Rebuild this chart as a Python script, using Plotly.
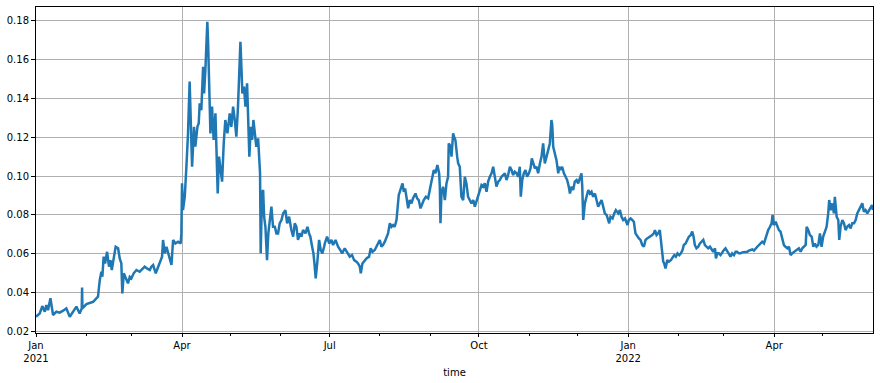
import pandas as pd
import plotly.graph_objects as go

# ---- data: day offsets from 2021-01-01 and price values ----
t1 = [0, 2.3, 3.9, 5.4, 6.4, 7.4, 8.9, 9.7, 10.5, 12.6,
      14.6, 16.7, 18.7, 20.8, 22.8, 24.9, 26.9, 28.2, 28.4, 28.6,
      31.1, 33.1, 35.2, 37.2, 38.2, 39.3, 40.3, 40.9, 41.7, 42.6,
      43.8, 45.0, 45.9, 46.7, 47.9, 49.1, 50.6, 51.6, 52.6, 53.2,
      54.1, 55.3, 56.7, 57.8, 58.8, 60.2, 61.9, 63.9, 65.6, 67.0,
      68.4, 70.1, 71.1, 72.2, 73.8, 75.2, 76.7, 77.7, 78.3, 79.4,
      80.4, 81.6, 82.4, 83.5, 84.5, 85.9, 87.6]
v1 = [0.0274, 0.0291, 0.0329, 0.0300, 0.0334, 0.0308, 0.0369, 0.0326, 0.0283, 0.0300,
      0.0295, 0.0305, 0.0317, 0.0274, 0.0300, 0.0326, 0.0291, 0.0317, 0.0425, 0.0317,
      0.0339, 0.0343, 0.0351, 0.0369, 0.0377, 0.0463, 0.0506, 0.0480, 0.0584, 0.0549,
      0.0609, 0.0532, 0.0566, 0.0515, 0.0584, 0.0635, 0.0627, 0.0575, 0.0549, 0.0394,
      0.0498, 0.0472, 0.0446, 0.0480, 0.0472, 0.0498, 0.0515, 0.0506, 0.0523, 0.0532,
      0.0523, 0.0515, 0.0532, 0.0541, 0.0498, 0.0532, 0.0558, 0.0584, 0.0670, 0.0601,
      0.0635, 0.0601, 0.0575, 0.0541, 0.0670, 0.0652, 0.0661]

t2 = [89.2, 89.6, 90.0, 90.6, 91.7, 92.7, 93.7, 94.7, 95.4, 96.2,
      97.4, 98.2, 99.5, 100.3, 100.9, 101.9, 103.0, 103.6, 104.4, 105.0,
      105.6, 106.1, 106.7, 107.5, 108.5, 109.5, 110.6, 111.4, 112.0, 112.8,
      113.9, 114.7, 115.7, 116.7, 118.0, 119.4, 120.4, 121.5, 122.5, 123.5,
      124.5, 125.2, 126.0, 126.6, 127.2, 128.2, 129.1, 130.1, 130.7, 131.5,
      132.4, 133.2, 134.0, 134.8, 135.8, 136.9, 137.5, 138.1, 138.5, 138.9,
      139.3, 140.0, 140.6, 141.4, 142.4, 143.2, 144.3, 145.1, 146.1, 147.2,
      148.2, 149.2, 150.2, 151.3, 152.3, 153.7, 154.8, 156.0, 157.4, 158.5,
      159.5, 160.5, 161.5, 162.6, 163.6, 164.6, 166.1, 167.3, 168.3, 169.1,
      170.2, 171.0, 171.8, 172.4, 173.5, 174.5, 175.5, 176.5, 177.6]
v2 = [0.0652, 0.0704, 0.0962, 0.0824, 0.0893, 0.1048, 0.1220, 0.1487, 0.1306, 0.1048,
      0.1254, 0.1151, 0.1254, 0.1272, 0.1375, 0.1340, 0.1564, 0.1426, 0.1547, 0.1702,
      0.1796, 0.1684, 0.1478, 0.1220, 0.1358, 0.1186, 0.1323, 0.1117, 0.0910, 0.1100,
      0.1014, 0.0971, 0.1168, 0.1289, 0.1220, 0.1323, 0.1254, 0.1358, 0.1289, 0.1203,
      0.1358, 0.1495, 0.1693, 0.1564, 0.1426, 0.1461, 0.1358, 0.1478, 0.1306, 0.1100,
      0.1254, 0.1186, 0.1289, 0.1220, 0.1151, 0.1194, 0.1117, 0.1014, 0.0601, 0.0842,
      0.0910, 0.0928, 0.0790, 0.0738, 0.0566, 0.0704, 0.0790, 0.0842, 0.0738, 0.0738,
      0.0704, 0.0704, 0.0756, 0.0773, 0.0807, 0.0824, 0.0756, 0.0790, 0.0721, 0.0687,
      0.0756, 0.0738, 0.0670, 0.0704, 0.0687, 0.0721, 0.0704, 0.0738, 0.0704, 0.0687,
      0.0635, 0.0601, 0.0532, 0.0472, 0.0566, 0.0670, 0.0618, 0.0601, 0.0635]

t3 = [178.0, 179.4, 180.7, 182.1, 183.1, 184.6, 186.2, 187.6, 188.7, 190.3,
      191.8, 193.4, 194.8, 196.1, 197.5, 198.5, 199.6, 200.2, 201.2, 202.6,
      203.7, 205.3, 206.3, 207.4, 208.8, 209.8, 211.1, 211.9, 212.9, 213.9,
      215.0, 216.0, 217.0, 218.1, 219.1, 220.1, 221.1, 222.2, 222.8, 223.6,
      224.6, 225.9, 226.7, 227.5, 228.3, 229.4, 230.4, 231.4, 232.4, 233.9,
      234.9, 235.9, 237.0, 238.0, 239.0, 240.3, 241.7, 243.1, 244.2, 245.2,
      246.2, 247.4, 248.5, 248.9, 249.3, 249.9, 250.9, 252.0, 253.0, 254.0,
      254.4, 255.5, 256.1, 257.1, 257.7, 258.5, 259.6, 260.2, 261.2, 262.2,
      263.3, 264.3, 265.3, 266.3]
v3 = [0.0652, 0.0687, 0.0652, 0.0670, 0.0644, 0.0670, 0.0635, 0.0618, 0.0601, 0.0627,
      0.0609, 0.0584, 0.0592, 0.0566, 0.0558, 0.0549, 0.0532, 0.0498, 0.0549, 0.0566,
      0.0575, 0.0584, 0.0627, 0.0609, 0.0618, 0.0635, 0.0661, 0.0670, 0.0635, 0.0644,
      0.0661, 0.0687, 0.0704, 0.0756, 0.0738, 0.0747, 0.0738, 0.0773, 0.0842, 0.0902,
      0.0928, 0.0962, 0.0919, 0.0936, 0.0893, 0.0833, 0.0876, 0.0859, 0.0885, 0.0910,
      0.0885, 0.0876, 0.0833, 0.0859, 0.0876, 0.0893, 0.0885, 0.0945, 0.0988, 0.1031,
      0.1014, 0.1057, 0.1014, 0.0945, 0.0756, 0.0910, 0.0945, 0.0876, 0.0962, 0.0996,
      0.1168, 0.1151, 0.1100, 0.1220, 0.1203, 0.1186, 0.1100, 0.1065, 0.1048, 0.0893,
      0.0876, 0.0996, 0.0962, 0.0893]

t4 = [268.4, 269.5, 270.5, 271.5, 272.5, 273.6, 274.6, 275.6, 276.6, 277.7,
      278.7, 279.7, 280.8, 281.8, 282.8, 283.8, 284.9, 285.9, 286.9, 287.9,
      289.0, 290.0, 291.0, 292.1, 293.1, 294.1, 295.1, 296.2, 297.2, 298.2,
      298.8, 299.7, 300.7, 301.7, 302.7, 303.8, 304.8, 305.6, 306.4, 307.5,
      308.5, 309.5, 310.6, 311.6, 312.6, 313.6, 314.7, 315.7, 316.7, 317.7,
      318.2, 318.8, 319.8, 320.8, 321.9, 322.5, 323.3, 324.3, 325.4, 326.4,
      327.4, 328.4, 329.1, 330.1, 331.1, 332.1, 333.2, 334.2, 335.2, 336.2,
      336.7, 337.3, 338.3, 339.3, 340.4, 341.4, 342.4, 343.4, 344.5, 345.5,
      346.5, 347.5, 348.6, 349.6, 350.6, 351.7, 352.7, 353.3, 354.1, 355.4,
      356.4, 357.4, 358.9]
v4 = [0.0859, 0.0876, 0.0842, 0.0867, 0.0893, 0.0928, 0.0953, 0.0945, 0.0962, 0.0919,
      0.0971, 0.0996, 0.1014, 0.1048, 0.0996, 0.0945, 0.0971, 0.0979, 0.0996, 0.1005,
      0.1014, 0.0979, 0.1005, 0.1048, 0.1031, 0.1005, 0.1022, 0.1014, 0.0996, 0.1048,
      0.0893, 0.0979, 0.1014, 0.1031, 0.0996, 0.1014, 0.1039, 0.1091, 0.1065, 0.1039,
      0.1048, 0.1014, 0.1065, 0.1100, 0.1168, 0.1065, 0.1100, 0.1143, 0.1168, 0.1289,
      0.1263, 0.1151, 0.1117, 0.1082, 0.1014, 0.1048, 0.1031, 0.1048, 0.1014, 0.0996,
      0.0979, 0.0945, 0.0910, 0.0945, 0.0928, 0.0971, 0.0979, 0.0962, 0.0996, 0.1014,
      0.0945, 0.0773, 0.0859, 0.0893, 0.0928, 0.0910, 0.0919, 0.0893, 0.0910, 0.0876,
      0.0842, 0.0859, 0.0876, 0.0842, 0.0807, 0.0799, 0.0773, 0.0756, 0.0790, 0.0781,
      0.0807, 0.0824, 0.0807]

t5 = [359.9, 360.9, 361.9, 363.0, 364.0, 364.6, 365.4, 366.5, 367.5, 368.5,
      369.5, 370.6, 371.6, 372.6, 373.7, 374.7, 375.7, 376.7, 377.8, 378.8,
      379.8, 380.8, 381.5, 382.5, 383.5, 384.5, 385.2, 386.0, 386.6, 387.2,
      388.0, 389.1, 390.1, 391.3, 392.4, 393.4, 394.4, 395.4, 396.5, 397.5,
      398.5, 399.3, 400.4, 401.4, 402.4, 403.5, 404.5, 405.3, 406.1, 407.1,
      408.2, 409.2, 410.2, 411.3, 412.3, 413.3, 414.3, 415.4, 416.4, 417.4,
      418.5, 419.1, 419.9, 420.9, 421.9, 423.0, 424.0, 425.0, 426.1, 427.1,
      428.1, 429.1, 430.2, 431.2, 432.2, 433.2, 434.3, 435.3, 436.3, 437.4,
      438.4, 439.4, 440.4, 441.5, 442.5, 443.5, 444.6, 445.6, 446.6, 447.6,
      448.7]
v5 = [0.0824, 0.0790, 0.0773, 0.0781, 0.0764, 0.0747, 0.0773, 0.0781, 0.0773, 0.0764,
      0.0704, 0.0687, 0.0678, 0.0670, 0.0644, 0.0635, 0.0670, 0.0678, 0.0683, 0.0687,
      0.0695, 0.0704, 0.0721, 0.0695, 0.0704, 0.0721, 0.0670, 0.0601, 0.0558, 0.0549,
      0.0523, 0.0566, 0.0558, 0.0566, 0.0584, 0.0592, 0.0584, 0.0601, 0.0592, 0.0601,
      0.0618, 0.0644, 0.0652, 0.0670, 0.0687, 0.0695, 0.0713, 0.0687, 0.0644, 0.0627,
      0.0635, 0.0652, 0.0661, 0.0670, 0.0644, 0.0635, 0.0627, 0.0635, 0.0618, 0.0609,
      0.0627, 0.0575, 0.0601, 0.0601, 0.0592, 0.0609, 0.0618, 0.0627, 0.0609, 0.0592,
      0.0584, 0.0601, 0.0592, 0.0609, 0.0609, 0.0601, 0.0601, 0.0606, 0.0606, 0.0609,
      0.0609, 0.0615, 0.0618, 0.0621, 0.0615, 0.0627, 0.0635, 0.0644, 0.0652, 0.0661,
      0.0652]

t6 = [449.3, 450.3, 451.3, 452.4, 453.4, 454.0, 454.8, 455.9, 456.9, 457.9,
      458.9, 460.0, 461.0, 462.0, 463.1, 464.1, 465.1, 466.1, 467.2, 468.2,
      469.2, 470.2, 471.3, 472.3, 473.3, 474.4, 475.0, 476.0, 477.0, 478.1,
      479.1, 480.1, 481.1, 482.2, 483.2, 484.2, 485.2, 486.3, 487.3, 488.3,
      488.9, 489.8, 490.8, 491.8, 492.4, 493.5, 494.5, 495.1, 495.9, 497.0,
      498.0, 499.0, 500.0, 501.1, 502.1, 503.1, 504.2, 505.2, 506.2, 507.2,
      508.3, 509.3, 510.3, 511.3, 512.4, 513.4, 514.4, 515.3, 515.9]
v6 = [0.0670, 0.0704, 0.0721, 0.0738, 0.0756, 0.0799, 0.0747, 0.0764, 0.0738, 0.0721,
      0.0713, 0.0670, 0.0644, 0.0635, 0.0627, 0.0635, 0.0592, 0.0601, 0.0609, 0.0618,
      0.0621, 0.0627, 0.0609, 0.0627, 0.0635, 0.0644, 0.0738, 0.0721, 0.0695, 0.0687,
      0.0635, 0.0652, 0.0635, 0.0644, 0.0704, 0.0635, 0.0687, 0.0721, 0.0738, 0.0807,
      0.0876, 0.0824, 0.0859, 0.0807, 0.0893, 0.0790, 0.0773, 0.0670, 0.0738, 0.0773,
      0.0756, 0.0721, 0.0738, 0.0747, 0.0730, 0.0756, 0.0756, 0.0773, 0.0807, 0.0824,
      0.0842, 0.0859, 0.0816, 0.0824, 0.0807, 0.0824, 0.0833, 0.0850, 0.0824]

tick_dates = ["2021-01-01", "2021-04-01", "2021-07-01", "2021-10-01", "2022-01-01", "2022-04-01"]
tick_labels = ["Jan<br>2021", "Apr", "Jul", "Oct", "Jan<br>2022", "Apr"]
y_ticks = [0.02, 0.04, 0.06, 0.08, 0.10, 0.12, 0.14, 0.16, 0.18]

days = t1 + t2 + t3 + t4 + t5 + t6
price = v1 + v2 + v3 + v4 + v5 + v6
assert len(days) == len(price), (len(days), len(price))

start = pd.Timestamp("2021-01-01")
time = start + pd.to_timedelta(days, unit="D")
minor_ticks = pd.date_range("2021-01-01", time[-1], freq="MS")

fig = go.Figure()
fig.add_trace(go.Scatter(x=time, y=price, mode="lines",
                         line=dict(color="#1f77b4", width=2.5), showlegend=False))

font = dict(family="DejaVu Sans", size=10, color="black")
fig.update_layout(
    width=880, height=383,
    margin=dict(l=36, r=7, t=7, b=50),
    paper_bgcolor="white", plot_bgcolor="white",
    font=font,
)
fig.update_xaxes(
    range=[time[0], time[-1]],
    tickmode="array", tickvals=tick_dates, ticktext=tick_labels,
    ticks="outside", ticklen=3, tickcolor="black",
    showgrid=True, gridcolor="#b0b0b0", gridwidth=0.8,
    showline=True, linecolor="black", linewidth=1, mirror=True,
    zeroline=False,
    minor=dict(tickmode="array", tickvals=list(minor_ticks), ticks="outside",
               ticklen=2, tickcolor="black", showgrid=False),
    title=dict(text="time", font=font, standoff=5),
    automargin=False,
)
fig.update_yaxes(
    range=[0.019, 0.1872],
    tickmode="array", tickvals=y_ticks, ticktext=[f"{v:.2f}" for v in y_ticks],
    ticks="outside", ticklen=4, tickcolor="black",
    showgrid=True, gridcolor="#b0b0b0", gridwidth=0.8,
    showline=True, linecolor="black", linewidth=1, mirror=True,
    zeroline=False,
    automargin=False,
)
fig.write_html("out.html")
